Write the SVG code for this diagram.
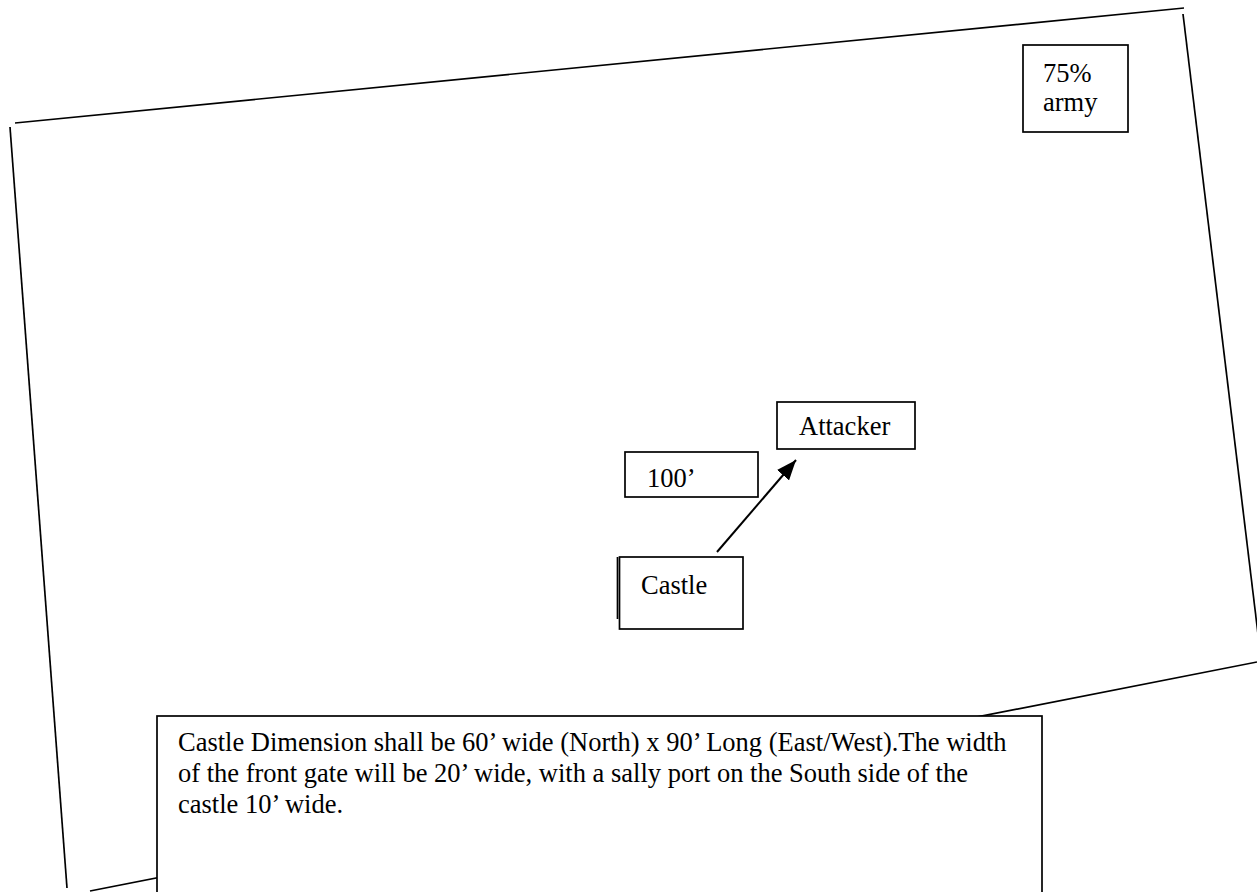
<svg xmlns="http://www.w3.org/2000/svg" width="1257" height="892" viewBox="0 0 1257 892">
<style>
.ln{stroke:#000;stroke-width:1.7;fill:none}
.bx{stroke:#000;stroke-width:1.7;fill:#fff}
.t{font-family:"Liberation Serif","Times New Roman",serif;font-size:26.5px;fill:#000}
</style>
<defs>
<marker id="ah" markerWidth="20" markerHeight="16" refX="20" refY="8" orient="auto" markerUnits="userSpaceOnUse" viewBox="0 0 20 16">
<path d="M0,0 L20,8 L0,16 Z" fill="#000"/>
</marker>
</defs>
<rect width="1257" height="892" fill="#fff"/>
<g id="field">
<line class="ln" x1="15" y1="123" x2="1184" y2="8"/>
<line class="ln" x1="10" y1="127" x2="67" y2="888"/>
<line class="ln" x1="1183" y1="14" x2="1258" y2="634"/>
<line class="ln" x1="90" y1="891" x2="1257" y2="662"/>
</g>
<g id="army">
<rect class="bx" x="1023" y="45" width="105" height="87"/>
<text class="t" x="1043" y="82">75%</text>
<text class="t" x="1043" y="111">army</text>
</g>
<g id="attacker">
<rect class="bx" x="777" y="402" width="138" height="47"/>
<text class="t" x="799" y="435">Attacker</text>
</g>
<g id="distance">
<rect class="bx" x="625" y="452" width="133" height="45"/>
<text class="t" x="647" y="487">100’</text>
</g>
<g id="castle">
<line class="ln" x1="617.5" y1="557" x2="617.5" y2="619"/>
<rect class="bx" x="619.5" y="557" width="123.5" height="72"/>
<text class="t" x="641" y="594">Castle</text>
</g>
<g id="connectors">
<line x1="717" y1="552" x2="796" y2="460" stroke="#000" stroke-width="2" marker-end="url(#ah)"/>
</g>
<g id="note">
<rect class="bx" x="157" y="716" width="885" height="200"/>
<text class="t" x="178" y="751">Castle Dimension shall be 60’ wide (North) x 90’ Long (East/West).The width</text>
<text class="t" x="178" y="782">of the front gate will be 20’ wide, with a sally port on the South side of the</text>
<text class="t" x="178" y="813">castle 10’ wide.</text>
</g>
</svg>
